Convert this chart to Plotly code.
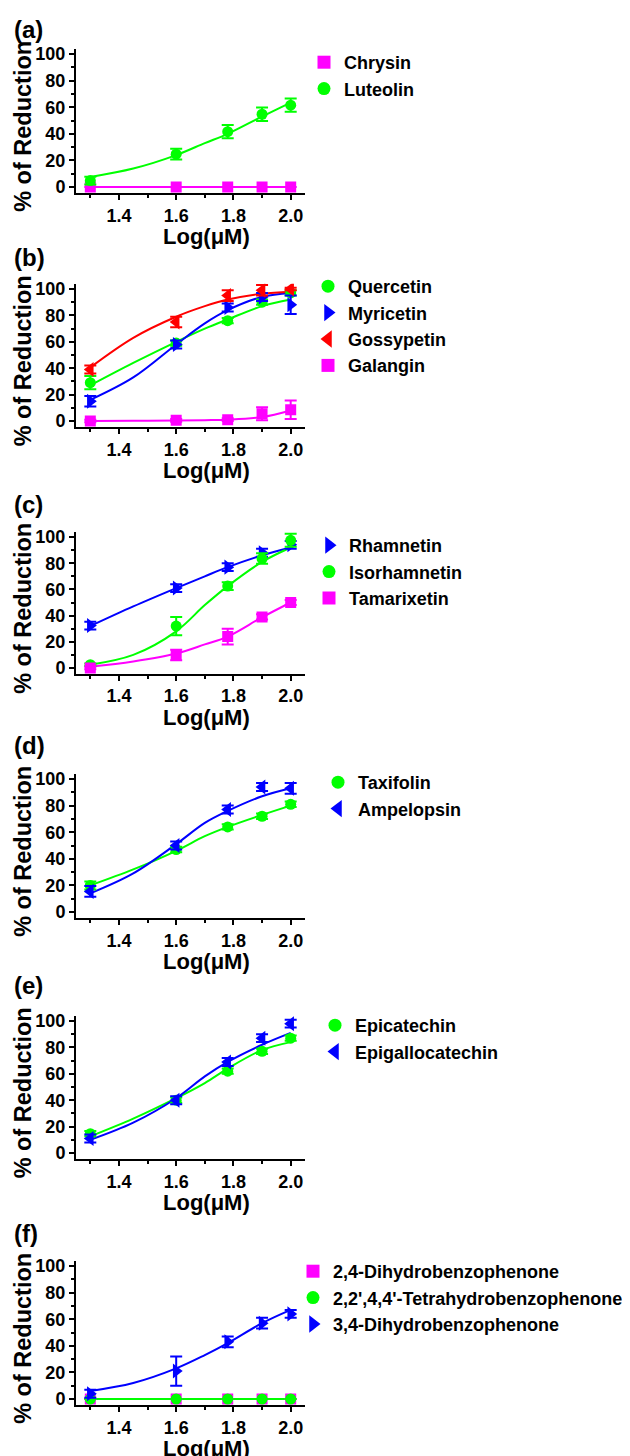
import plotly.graph_objects as go

# ---------------- DATA ----------------
x_vals = [1.30, 1.60, 1.78, 1.90, 2.00]
fit_x = [1.30, 1.45, 1.60, 1.70, 1.78, 1.90, 2.00]

# (a)
chrysin = [0, 0, 0, 0, 0]
chrysin_err = [0, 0, 0, 0, 0]
chrysin_fit = [0, 0, 0, 0, 0, 0, 0]
luteolin = [4.8, 24.7, 41.6, 54.7, 61.5]
luteolin_err = [3, 4, 5, 5, 5]
luteolin_fit = [7.6, 13.9, 24, 33, 40, 53, 63.5]

# (b)
quercetin = [29, 59, 76, 90, 97]
quercetin_err = [5, 2, 2, 2, 2]
quercetin_fit = [27, 44, 60, 70, 77, 87, 92]
myricetin = [15, 58, 86, 94, 88]
myricetin_err = [4, 3, 3, 3, 7]
myricetin_fit = [16, 33, 58, 74, 84, 94, 97]
gossypetin = [39, 75, 95, 99, 100]
gossypetin_err = [3, 4, 4, 4, 1]
gossypetin_fit = [40.6, 63, 79, 87, 92, 96.5, 98]
galangin = [0, 0.5, 1, 5.5, 8.6]
galangin_err = [1, 1, 1, 5, 7]
galangin_fit = [0, 0.1, 0.3, 0.6, 1, 3, 8]

# (c)
rhamnetin = [32.4, 61, 77, 88, 94]
rhamnetin_err = [3, 3, 3, 3, 3]
rhamnetin_fit = [32, 47, 61, 70, 77, 86, 92]
isorhamnetin = [2.5, 32, 62.5, 83.5, 97.5]
isorhamnetin_err = [1, 7, 3, 4, 5]
isorhamnetin_fit = [2.5, 10, 28, 48, 62.5, 81, 92]
tamarixetin = [0, 10, 24, 39, 50]
tamarixetin_err = [1, 4, 6, 2, 2]
tamarixetin_fit = [1, 5, 11, 18, 24, 38.7, 50]

# (d)
taxifolin = [20, 47, 64, 72, 81]
taxifolin_err = [3, 2, 2, 2, 2]
taxifolin_fit = [20, 32, 46, 57, 64, 73, 80]
ampelopsin = [15.5, 50, 77, 94, 93]
ampelopsin_err = [4, 3, 3, 3, 4]
ampelopsin_fit = [14, 29, 51, 67, 76, 87, 93]

# (e)
epicatechin = [14.6, 40, 62, 77, 87]
epicatechin_err = [2, 2, 2, 2, 2]
epicatechin_fit = [12.6, 26, 41.5, 53, 64, 78, 84]
epigallocatechin = [11, 40, 69, 87, 98]
epigallocatechin_err = [3, 3, 3, 3, 3]
epigallocatechin_fit = [10, 23, 41.5, 58, 69, 82, 91]

# (f)
dhbp24 = [0, 0, 0, 0, 0]
dhbp24_err = [0, 0, 0, 0, 0]
dhbp24_fit = [0, 0, 0, 0, 0, 0, 0]
thbp = [0, 0, 0, 0, 0]
thbp_err = [0, 0, 0, 0, 0]
thbp_fit = [0, 0, 0, 0, 0, 0, 0]
dhbp34 = [4, 21, 43, 57, 64]
dhbp34_err = [3, 11, 4, 4, 3]
dhbp34_fit = [6, 12, 23, 33, 42, 57, 67]

x_ticks = [1.4, 1.6, 1.8, 2.0]
x_tick_labels = ["1.4", "1.6", "1.8", "2.0"]
y_ticks = [0, 20, 40, 60, 80, 100]
y_tick_labels = ["0", "20", "40", "60", "80", "100"]
panel_labels = ["(a)", "(b)", "(c)", "(d)", "(e)", "(f)"]

MAG = "#FF00FF"
GRN = "#00FF00"
BLU = "#0000FF"
RED = "#FF0000"

panels = [
    [("Chrysin", chrysin, chrysin_err, chrysin_fit, MAG, "square"),
     ("Luteolin", luteolin, luteolin_err, luteolin_fit, GRN, "circle")],
    [("Quercetin", quercetin, quercetin_err, quercetin_fit, GRN, "circle"),
     ("Myricetin", myricetin, myricetin_err, myricetin_fit, BLU, "triangle-right"),
     ("Gossypetin", gossypetin, gossypetin_err, gossypetin_fit, RED, "triangle-left"),
     ("Galangin", galangin, galangin_err, galangin_fit, MAG, "square")],
    [("Rhamnetin", rhamnetin, rhamnetin_err, rhamnetin_fit, BLU, "triangle-right"),
     ("Isorhamnetin", isorhamnetin, isorhamnetin_err, isorhamnetin_fit, GRN, "circle"),
     ("Tamarixetin", tamarixetin, tamarixetin_err, tamarixetin_fit, MAG, "square")],
    [("Taxifolin", taxifolin, taxifolin_err, taxifolin_fit, GRN, "circle"),
     ("Ampelopsin", ampelopsin, ampelopsin_err, ampelopsin_fit, BLU, "triangle-left")],
    [("Epicatechin", epicatechin, epicatechin_err, epicatechin_fit, GRN, "circle"),
     ("Epigallocatechin", epigallocatechin, epigallocatechin_err, epigallocatechin_fit, BLU, "triangle-left")],
    [("2,4-Dihydrobenzophenone", dhbp24, dhbp24_err, dhbp24_fit, MAG, "square"),
     ("2,2',4,4'-Tetrahydrobenzophenone", thbp, thbp_err, thbp_fit, GRN, "circle"),
     ("3,4-Dihydrobenzophenone", dhbp34, dhbp34_err, dhbp34_fit, BLU, "triangle-right")],
]

# ---------------- LAYOUT GEOMETRY (pixels of the 630x1456 page) ----------------
OFF = 8  # page body margin
W, H = 630 - OFF, 1456 - OFF
FONT = "Liberation Sans, Arial, sans-serif"
p100 = [54, 289, 537, 779, 1021, 1266]
p0 = [187, 421, 668, 912, 1153, 1399]
x_left, x_right = 76, 305
YLO, YHI = -4.5, 104
legend_text_x = [344, 348, 349, 358, 355, 333]
legend_first_y = [62, 286, 545, 782, 1025, 1271]
label_y = [30, 257, 505, 745, 985, 1233]


def fx(px):
    return (px - OFF) / W


def fy(py):
    return 1 - (py - OFF) / H


fig = go.Figure()
annotations = []
layout = {}

for i, series in enumerate(panels):
    k = "" if i == 0 else str(i + 1)
    u = (p0[i] - p100[i]) / 100.0
    bot = p0[i] - YLO * u
    top = p100[i] - (YHI - 100) * u
    leg = "legend" + k
    for name, vals, err, fit, col, sym in series:
        fig.add_trace(go.Scatter(
            x=fit_x, y=fit, mode="lines", line=dict(color=col, width=2, shape="spline"),
            showlegend=False, hoverinfo="skip", xaxis="x" + k, yaxis="y" + k))
    for name, vals, err, fit, col, sym in series:
        msize = 13 if sym.startswith("triangle") else 11
        fig.add_trace(go.Scatter(
            x=x_vals, y=vals, mode="markers", name=name, showlegend=False,
            marker=dict(color=col, symbol=sym, size=msize),
            error_y=dict(type="data", array=err, color=col, thickness=2, width=6,
                         visible=True),
            xaxis="x" + k, yaxis="y" + k))
        # legend entry
        fig.add_trace(go.Scatter(
            x=[None], y=[None], mode="markers", name=name,
            marker=dict(color=col, symbol=sym, size=15 if sym.startswith("triangle") else 13),
            xaxis="x" + k, yaxis="y" + k, legend=leg))
    axis_common = dict(
        showline=True, linecolor="black", linewidth=2, ticks="outside",
        tickcolor="black", tickwidth=2, ticklen=5, showgrid=False, zeroline=False,
        tickfont=dict(family=FONT, size=18, color="black", weight="bold"),
    )
    layout["xaxis" + k] = dict(
        axis_common, domain=[fx(x_left), fx(x_right)], range=[1.25, 2.05],
        anchor="y" + k, tickvals=x_ticks, ticktext=x_tick_labels,
        minor=dict(tickvals=[1.3, 1.5, 1.7, 1.9], ticklen=3, tickwidth=2,
                   tickcolor="black", ticks="outside"))
    layout["yaxis" + k] = dict(
        axis_common, domain=[fy(bot), fy(top)], range=[YLO, YHI],
        anchor="x" + k, tickvals=y_ticks, ticktext=y_tick_labels,
        minor=dict(tickvals=[10, 30, 50, 70, 90], ticklen=3, tickwidth=2,
                   tickcolor="black", ticks="outside"))
    layout[leg] = dict(
        x=fx(legend_text_x[i] - 40), y=fy(legend_first_y[i] - 18),
        xanchor="left", yanchor="top", bgcolor="rgba(0,0,0,0)",
        font=dict(family=FONT, size=18, color="black", weight="bold"),
        itemclick=False, tracegroupgap=0)
    # axis titles and panel label
    annotations.append(dict(
        text="% of Reduction", x=fx(23), y=fy((top + bot) / 2 + 6), xref="paper",
        yref="paper", showarrow=False, textangle=-90, xanchor="center", yanchor="middle",
        font=dict(family=FONT, size=23.5, color="black", weight="bold")))
    annotations.append(dict(
        text="Log(\u03bcM)", x=fx(206), y=fy(bot + 44), xref="paper", yref="paper",
        showarrow=False, xanchor="center", yanchor="middle",
        font=dict(family=FONT, size=22, color="black", weight="bold")))
    annotations.append(dict(
        text=panel_labels[i], x=fx(12), y=fy(label_y[i]), xref="paper", yref="paper",
        showarrow=False, xanchor="left", yanchor="middle",
        font=dict(family=FONT, size=24, color="black", weight="bold")))

fig.update_layout(
    width=W, height=H, margin=dict(l=0, r=0, t=0, b=0, autoexpand=False),
    paper_bgcolor="white", plot_bgcolor="white", annotations=annotations,
    **layout)

fig.write_html("out.html")
